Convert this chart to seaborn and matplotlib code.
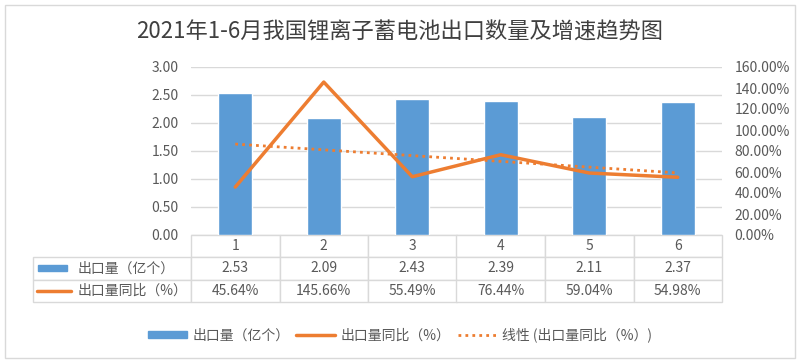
import numpy as np
import pandas as pd
import seaborn as sns
import matplotlib.pyplot as plt
from matplotlib.patches import Rectangle
from matplotlib.lines import Line2D
from matplotlib.ticker import FuncFormatter

# dati
mesi = ["1", "2", "3", "4", "5", "6"]
export_qty = [2.53, 2.09, 2.43, 2.39, 2.11, 2.37]      # 出口量（亿个）
export_yoy = [45.64, 145.66, 55.49, 76.44, 59.04, 54.98]  # 出口量同比（%）

titolo = "2021年1-6月我国锂离子蓄电池出口数量及增速趋势图"
lab_qty = "出口量（亿个）"
lab_yoy = "出口量同比（%）"
lab_trend = "线性 (出口量同比（%）)"

blu = "#5B9BD5"
arancio = "#ED7D31"
grigio = "#595959"
bordo = "#D9D9D9"

sns.set_style("white")
plt.rcParams["font.family"] = ["Noto Sans CJK SC", "DejaVu Sans"]

df = pd.DataFrame({"mese": mesi, "qty": export_qty, "yoy": export_yoy})
df["pos"] = range(len(df))

fig = plt.figure(figsize=(8, 3.63), dpi=100)
fig.patches.append(Rectangle((5 / 800, 5 / 363), 790 / 800, 353 / 363, transform=fig.transFigure,
                             fill=False, edgecolor=bordo, lw=1))

ax = fig.add_axes([191 / 800, 128 / 363, 531 / 800, 168 / 363])
sns.barplot(data=df, x="mese", y="qty", color=blu, width=0.38, saturation=1, ax=ax)
ax.set_ylim(0, 3)
ax.set_yticks(np.arange(0, 3.01, 0.5))
ax.yaxis.set_major_formatter(FuncFormatter(lambda v, p: f"{v:.2f}"))
ax.set_xlim(-0.5, 5.5)
ax.set_xticks([])
ax.set_xlabel("")
ax.set_ylabel("")
ax.grid(axis="y", color=bordo, lw=1)
ax.set_axisbelow(True)
for s in ax.spines.values():
    s.set_visible(False)
ax.tick_params(axis="y", length=0, pad=9, labelsize=10, labelcolor=grigio)

ax2 = ax.twinx()
sns.regplot(data=df, x="pos", y="yoy", scatter=False, ci=None, ax=ax2,
            line_kws=dict(color=arancio, lw=2, ls=(0, (1, 1.5))))
sns.lineplot(data=df, x="pos", y="yoy", color=arancio, lw=2.5, ax=ax2)
ax2.set_ylim(0, 160)
ax2.set_yticks(np.arange(0, 161, 20))
ax2.yaxis.set_major_formatter(FuncFormatter(lambda v, p: f"{v:.2f}%"))
ax2.set_xlim(-0.5, 5.5)
ax2.set_xlabel("")
ax2.set_ylabel("")
for s in ax2.spines.values():
    s.set_visible(False)
ax2.tick_params(axis="y", length=0, pad=9, labelsize=10, labelcolor=grigio)

# tabella dati sotto il grafico
righe = [[""] + mesi,
         [lab_qty] + [f"{v:.2f}" for v in export_qty],
         [lab_yoy] + [f"{v:.2f}%" for v in export_yoy]]
x0 = -158 / 531
tab = ax.table(cellText=righe, colWidths=[158] + [88.5] * 6, cellLoc="center",
               bbox=[x0, -67 / 168, 1 - x0, 67 / 168])
tab.auto_set_font_size(False)
for (r, c), cell in tab.get_celld().items():
    cell.set_edgecolor(bordo)
    cell.set_linewidth(1)
    cell.get_text().set_fontsize(10)
    cell.get_text().set_color(grigio)
    if c == 0:
        cell.get_text().set_horizontalalignment("left")
        cell._loc = "left"
        cell.PAD = 0.28
    if r == 0 and c == 0:
        cell.visible_edges = ""

# chiavi della legenda dentro la tabella
tr = ax.transAxes
ax.add_patch(Rectangle((-153 / 531, -36 / 168), 29 / 531, 6 / 168, transform=tr,
                       color=blu, clip_on=False))
ax.add_line(Line2D([-154 / 531, -120 / 531], [-56 / 168, -56 / 168], transform=tr,
                   color=arancio, lw=2.5, clip_on=False))

fig.text(0.5, 331 / 363, titolo, ha="center", va="center", fontsize=16, color="#404040")

handles = [Rectangle((0, 0), 1, 1, color=blu),
           Line2D([], [], color=arancio, lw=2.5),
           Line2D([], [], color=arancio, lw=2, ls=(0, (1, 1.5)))]
fig.legend(handles, [lab_qty, lab_yoy, lab_trend], loc="center", bbox_to_anchor=(0.5, 28 / 363),
           ncol=3, frameon=False, fontsize=10, labelcolor=grigio, handlelength=2.8,
           handleheight=0.5, columnspacing=0.5, handletextpad=0.4)

fig.savefig("out.png", dpi=100)
